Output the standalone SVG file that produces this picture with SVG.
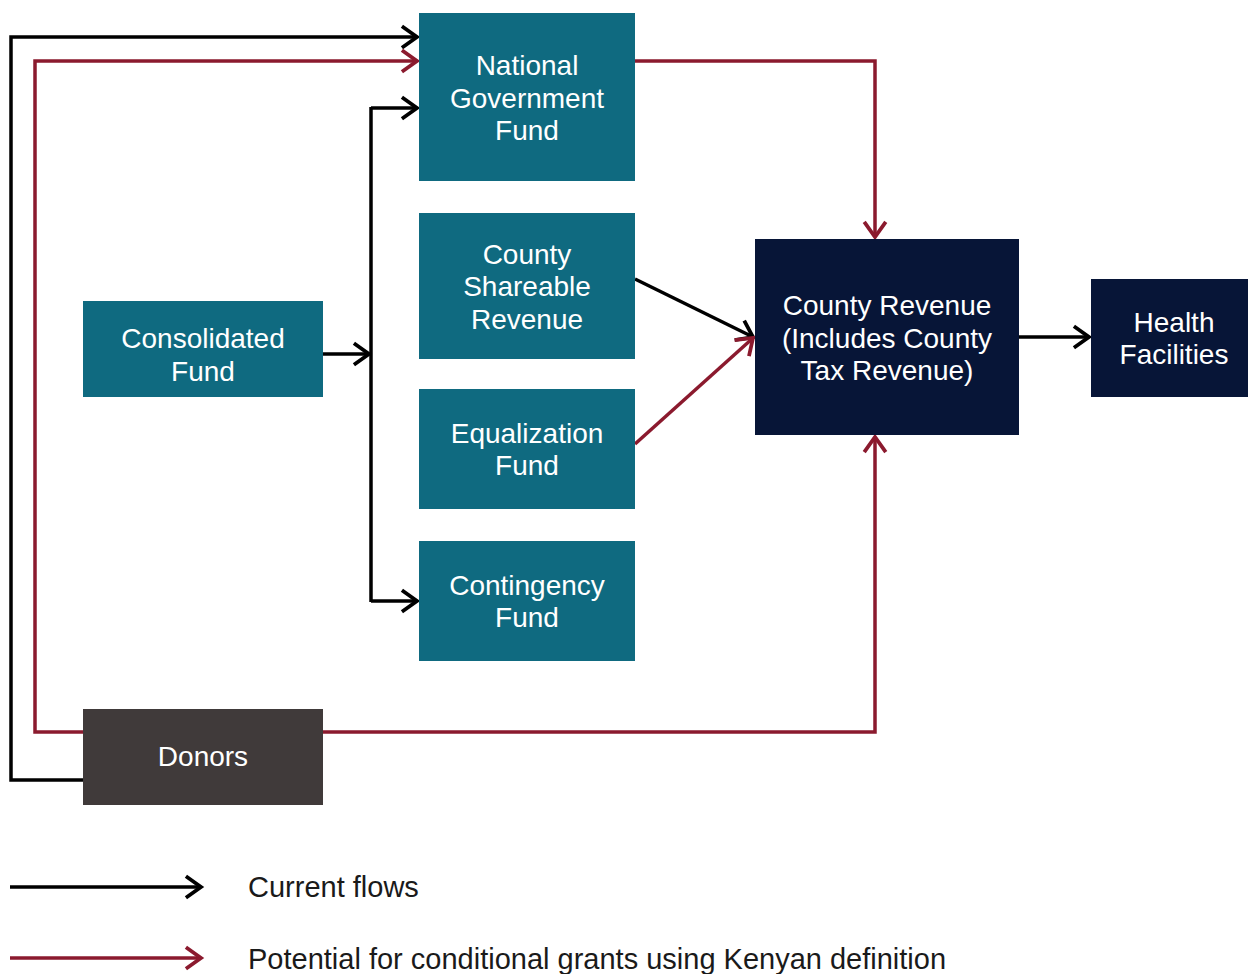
<svg xmlns="http://www.w3.org/2000/svg" width="1248" height="974" viewBox="0 0 1248 974">
<style>
.teal{fill:#0f6a80}
.navy{fill:#071537}
.donor{fill:#403a3a}
.t{font-family:"Liberation Sans",Arial,sans-serif;font-size:28px;fill:#ffffff;text-anchor:middle}
.lg{font-family:"Liberation Sans",Arial,sans-serif;font-size:29px;fill:#1a1a1a}
.k{fill:none;stroke:#000000;stroke-width:3.5;marker-end:url(#ak)}
.r{fill:none;stroke:#8b1a2e;stroke-width:3.5;marker-end:url(#ar)}
.kn{fill:none;stroke:#000000;stroke-width:3.5}
</style>
<defs>
<marker id="ak" markerUnits="userSpaceOnUse" markerWidth="24" markerHeight="28" viewBox="-18 -13 22 26" refX="0" refY="0" orient="auto">
<path d="M-14,-10 L0,0 L-14,10" fill="none" stroke="#000000" stroke-width="3.5"/>
</marker>
<marker id="ar" markerUnits="userSpaceOnUse" markerWidth="24" markerHeight="28" viewBox="-18 -13 22 26" refX="0" refY="0" orient="auto">
<path d="M-14,-10 L0,0 L-14,10" fill="none" stroke="#8b1a2e" stroke-width="3.5"/>
</marker>
</defs>
<rect width="1248" height="974" fill="#ffffff"/>
<g id="connectors">
<polyline class="k" points="83,780 11,780 11,37 417,37"/>
<polyline class="r" points="83,732 35,732 35,61 417,61"/>
<line class="k" x1="323" y1="354" x2="369" y2="354"/>
<line class="kn" x1="371" y1="107" x2="371" y2="602"/>
<polyline class="k" points="371,108 417,108"/>
<polyline class="k" points="371,601 417,601"/>
<polyline class="r" points="635,61 875,61 875,237"/>
<line class="k" x1="635" y1="279" x2="753" y2="337"/>
<line class="r" x1="635" y1="444" x2="753" y2="338"/>
<polyline class="r" points="323,732 875,732 875,437"/>
<line class="k" x1="1019" y1="337" x2="1089" y2="337"/>
<line class="k" x1="10" y1="887" x2="201" y2="887"/>
<line class="r" x1="10" y1="958" x2="201" y2="958"/>
</g>
<g id="national-government-fund">
<rect class="teal" x="419" y="13" width="216" height="168"/>
<text class="t" x="527" y="75">National</text>
<text class="t" x="527" y="108">Government</text>
<text class="t" x="527" y="140">Fund</text>
</g>
<g id="county-shareable-revenue">
<rect class="teal" x="419" y="213" width="216" height="146"/>
<text class="t" x="527" y="264">County</text>
<text class="t" x="527" y="296">Shareable</text>
<text class="t" x="527" y="329">Revenue</text>
</g>
<g id="equalization-fund">
<rect class="teal" x="419" y="389" width="216" height="120"/>
<text class="t" x="527" y="443">Equalization</text>
<text class="t" x="527" y="475">Fund</text>
</g>
<g id="contingency-fund">
<rect class="teal" x="419" y="541" width="216" height="120"/>
<text class="t" x="527" y="595">Contingency</text>
<text class="t" x="527" y="627">Fund</text>
</g>
<g id="consolidated-fund">
<rect class="teal" x="83" y="301" width="240" height="96"/>
<text class="t" x="203" y="348">Consolidated</text>
<text class="t" x="203" y="381">Fund</text>
</g>
<g id="donors">
<rect class="donor" x="83" y="709" width="240" height="96"/>
<text class="t" x="203" y="766">Donors</text>
</g>
<g id="county-revenue">
<rect class="navy" x="755" y="239" width="264" height="196"/>
<text class="t" x="887" y="315">County Revenue</text>
<text class="t" x="887" y="348">(Includes County</text>
<text class="t" x="887" y="380">Tax Revenue)</text>
</g>
<g id="health-facilities">
<rect class="navy" x="1091" y="279" width="157" height="118"/>
<text class="t" x="1174" y="332">Health</text>
<text class="t" x="1174" y="364">Facilities</text>
</g>
<g id="legend">
<text class="lg" x="248" y="897">Current flows</text>
<text class="lg" x="248" y="969">Potential for conditional grants using Kenyan definition</text>
</g>
</svg>
